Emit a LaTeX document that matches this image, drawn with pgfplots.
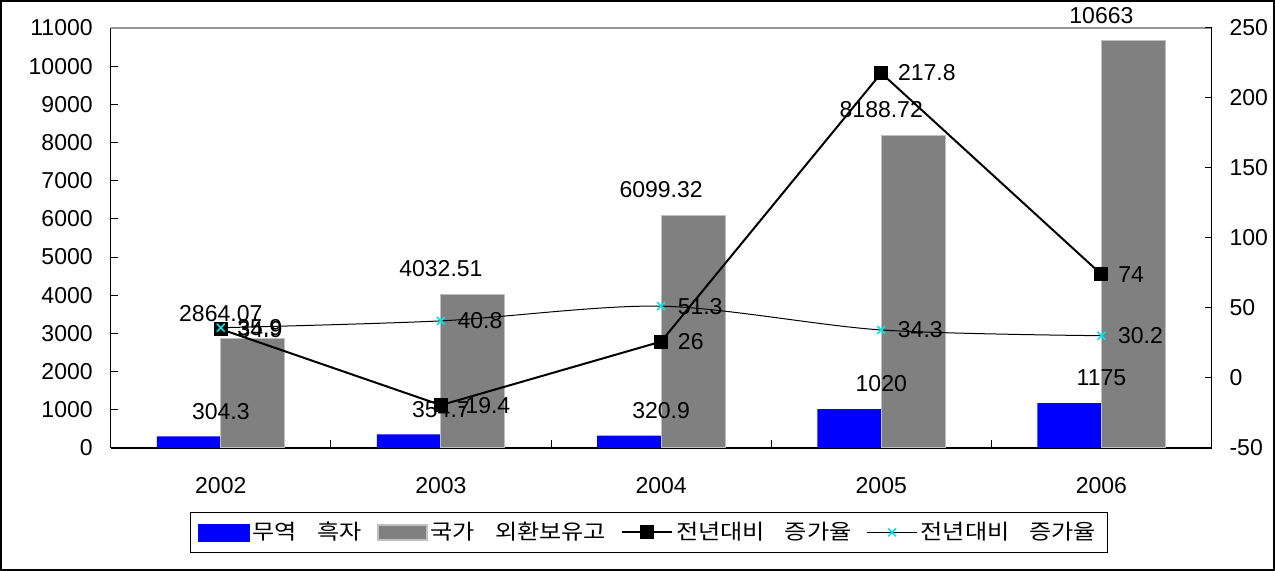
\documentclass[border=0pt]{standalone}
\usepackage{fontspec}
\setmainfont{Liberation Sans}
\newfontfamily\kr[FakeStretch=1.15]{Noto Sans CJK KR}
\usepackage{pgfplots}
\pgfplotsset{compat=1.18}

\definecolor{barblue}{RGB}{0,0,255}
\definecolor{bargray}{RGB}{128,128,128}
\definecolor{baredge}{RGB}{192,192,192}
\definecolor{topline}{RGB}{150,150,150}
\definecolor{cyanmk}{RGB}{0,230,230}

\newcommand{\lbl}{\fontsize{11.5}{13}\selectfont}
\newcommand{\gap}{\hspace{10pt}}

\pgfplotsset{
  /pgf/number format/.cd, 1000 sep={}, assume math mode=true,
  /pgfplots/.cd,
  base/.style={
    scale only axis, width=550.4pt, height=210pt,
    at={(55.35pt,61.5pt)}, anchor=south west,
    xmin=0.5, xmax=5.5,
    tick align=inside,
    major tick length=3.5pt, minor tick length=4pt,
    axis line style={line width=0.8pt},
    tick style={black, line width=0.5pt},
    tick label style={font=\lbl},
    scaled y ticks=false,
  },
  linelbl/.style={
    nodes near coords,
    every node near coord/.append style={anchor=west, xshift=4.6pt, font=\lbl, text=black},
  },
  barlbl/.style={
    nodes near coords,
    every node near coord/.append style={anchor=south, yshift=5pt, font=\lbl, text=black},
  },
  longline/.style={
    legend image code/.code={\draw[##1,mark repeat=2,mark phase=2] plot coordinates {(0pt,0pt)(12.5pt,0pt)(25pt,0pt)};},
  },
}

\begin{document}
\begin{tikzpicture}
\useasboundingbox (0,0) rectangle (637.5pt,285.5pt);

% left axis: bars
\begin{axis}[base,
  ymin=0, ymax=11000, ytick={0,1000,...,11000},
  axis x line*=bottom, axis y line*=left,
  xtick={1,2,3,4,5}, xticklabels={2002,2003,2004,2005,2006},
  major x tick style={draw=none},
  minor xtick={1.5,2.5,3.5,4.5},
  yticklabel style={xshift=-5.5pt},
  xticklabel style={yshift=-11pt},
]
\draw[topline, line width=1pt] (rel axis cs:0,1) -- (rel axis cs:1,1);

% 무역 흑자
\addplot[ybar, bar width=32pt, bar shift=-16pt, fill=barblue, draw=none, barlbl]
  coordinates {(1,304.3) (2,354.7) (3,320.9) (4,1020) (5,1175)};
% 국가 외환보유고
\addplot[ybar, bar width=32pt, bar shift=16pt, fill=bargray, draw=baredge, line width=0.5pt, barlbl]
  coordinates {(1,2864.07) (2,4032.51) (3,6099.32) (4,8188.72) (5,10663)};
\end{axis}

% right axis: growth rates
\begin{axis}[base,
  ymin=-50, ymax=250, ytick={-50,0,...,250},
  axis y line*=right, axis x line=none,
  yticklabel style={xshift=5.5pt},
  legend columns=4,
  legend style={at={(0.4886,-0.201)}, anchor=center, draw=black, thin,
    font=\kr\fontsize{10.5}{12}\selectfont, inner xsep=4pt, inner ysep=3pt,
    nodes={inner xsep=1.5pt, inner ysep=2pt},
    /tikz/every even column/.append style={column sep=6pt}},
]
\addlegendimage{legend image code/.code={\fill[barblue] (0pt,-4.25pt) rectangle (25.5pt,4.25pt);}}
\addlegendentry{무역\gap 흑자}
\addlegendimage{legend image code/.code={\fill[bargray, draw=baredge, line width=1pt] (0.5pt,-3.75pt) rectangle (25pt,3.75pt);}}
\addlegendentry{국가\gap 외환보유고}

\addplot[black, line width=1pt, mark=square*, mark size=3pt, linelbl, longline]
  coordinates {(1,34.9) (2,-19.4) (3,26) (4,217.8) (5,74)};
\addlegendentry{전년대비\gap 증가율}

\addplot[black, line width=0.5pt, smooth, tension=0.5, mark=x, mark size=2.8pt,
  mark options={cyanmk, line width=0.8pt}, linelbl, longline]
  coordinates {(1,35.9) (2,40.8) (3,51.3) (4,34.3) (5,30.2)};
\addlegendentry{전년대비\gap 증가율}
\end{axis}

\draw[line width=0.8pt] (0.4pt,0.4pt) rectangle (637.1pt,285.1pt);
\end{tikzpicture}
\end{document}
